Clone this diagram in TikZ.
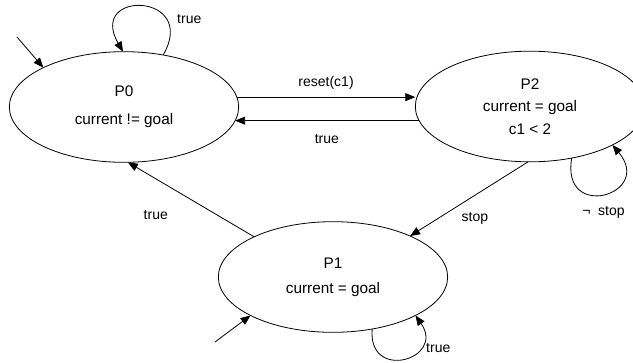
\documentclass[tikz,border=0pt]{standalone}
\usepackage{fontspec}
\setmainfont{Liberation Sans}
\usetikzlibrary{shapes.geometric,arrows.meta,positioning}

\begin{document}
\begin{tikzpicture}[x=0.75pt,y=-0.75pt,line width=0.6pt,>={Triangle[length=7.5pt,width=6pt]}]
\tikzstyle{state}=[ellipse, draw, outer sep=0pt, inner sep=0pt, minimum width=172pt, minimum height=83pt, align=center, font=\fontsize{11.5}{14}\selectfont]
\tikzstyle{lbl}=[font=\fontsize{10.5}{12}\selectfont]
\useasboundingbox (0,0) rectangle (633,362);

\node[state] (P0) at (124,107) {P0\\[7pt]current != goal};
\node[state] (P2) at (530,106.5) {P2\\[3pt]current = goal\\[3pt]c1 < 2};
\node[state] (P1) at (333,277) {P1\\[5pt]current = goal};

\coordinate (in0) at (17,37);
\coordinate (in1) at (215,342);

\path[->]
(in0) edge (P0.154)
(P0.53) edge[out=60, in=120, distance=54pt] node[lbl, pos=0.25, right=4pt] {true} (P0.91)
(P0.5) edge node[lbl, above=2pt] {reset(c1)} (P0.5 -| P2.west)
([xshift=2.5pt]P2.west |- P0.-7) edge node[lbl, below=7pt] {true} (P0.-7);

\path[->]
(P2.-51) edge[out=-100, in=-50, distance=48.6pt] node[lbl, pos=0.5, below=6pt] {¬\ \ stop} (P2.-25.5)
(P2.-92) edge node[lbl, pos=0.45, below=9pt] {stop} (P1.28);

\path[->]
(in1) edge (P1.205.6)
(P1.-53.3) edge[out=-95, in=-55, distance=40pt] node[lbl, pos=0.7, right=2pt] {true} (P1.-25.3)
(P1.153.8) edge node[lbl, pos=0.55, below left=7pt and 9pt] {true} (P0.-86);

\end{tikzpicture}
\end{document}
